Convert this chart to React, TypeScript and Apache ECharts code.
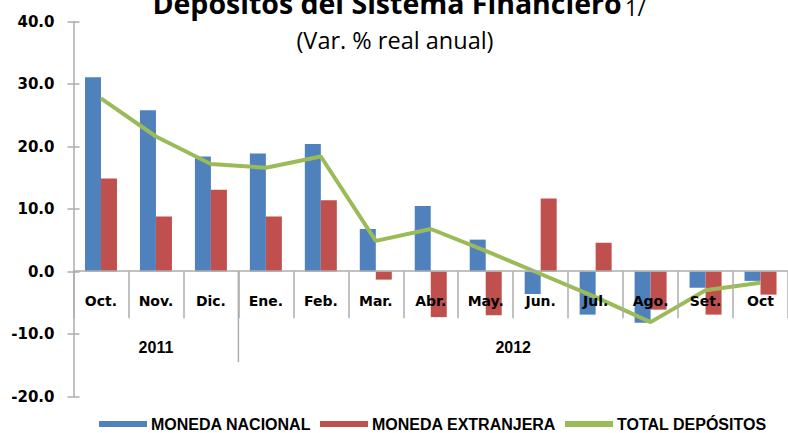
import React, { useEffect, useRef } from "react";
import * as echarts from "echarts";

const months = ["Oct.", "Nov.", "Dic.", "Ene.", "Feb.", "Mar.", "Abr.", "May.", "Jun.", "Jul.", "Ago.", "Set.", "Oct"];
const years = ["2011", "2012"];
const yearCounts = [3, 10];
const monedaNacional = [31.1, 25.8, 18.4, 18.9, 20.4, 6.8, 10.5, 5.1, -3.6, -6.9, -8.2, -2.6, -1.5];
const monedaExtranjera = [14.9, 8.8, 13.1, 8.8, 11.4, -1.3, -7.3, -7.0, 11.7, 4.6, -6.1, -6.9, -3.7];
const totalDepositos = [27.7, 21.6, 17.2, 16.6, 18.4, 4.9, 6.8, 3.3, -0.4, -4.1, -8.1, -3.0, -1.8];
const seriesNames = ["MONEDA NACIONAL", "MONEDA EXTRANJERA", "TOTAL DEPÓSITOS"];
const titleText = "Depósitos del Sistema Financiero";
const titleNote = "1/";
const subtitleText = "(Var. % real anual)";

export default function App() {
  const ref = useRef<HTMLDivElement>(null);
  useEffect(() => {
    if (!ref.current) return;
    const chart = echarts.init(ref.current, null, { renderer: "svg" });
    const axisColor = "#ADADAD";
    const axisFont = "DejaVu Sans";
    const grid = { left: 73.5, top: 21.5, width: 723, height: 375 };
    chart.setOption({
      animation: false,
      grid,
      legend: {
        left: 94,
        top: 411,
        itemWidth: 48,
        itemHeight: 6,
        itemGap: 9,
        data: seriesNames.map((n) => ({ name: n, icon: "rect" })),
        textStyle: { fontFamily: "Liberation Sans", fontWeight: "bold", fontSize: 16, color: "#000", padding: [0, 0, 0, -1] },
      },
      xAxis: {
        type: "category",
        data: months,
        position: "bottom",
        offset: 0,
        z: 10,
        axisLine: { onZero: false, lineStyle: { color: axisColor, width: 1.5 } },
        axisTick: { show: true, length: 47, lineStyle: { color: axisColor, width: 1.5 } },
        axisLabel: { margin: 23, fontFamily: axisFont, fontWeight: "bold", fontSize: 14, color: "#000" },
        splitLine: { show: false },
      },
      yAxis: [
        {
          type: "value",
          min: -20,
          max: 40,
          interval: 10,
          axisLine: { show: true, lineStyle: { color: axisColor, width: 1.5 } },
          axisTick: { show: true, length: 6, lineStyle: { color: axisColor, width: 1.5 } },
          axisLabel: { margin: 19, fontFamily: axisFont, fontWeight: "bold", fontSize: 15, color: "#000", formatter: (v: number) => v.toFixed(1) },
          splitLine: { show: false },
        },
        {
          type: "value",
          position: "left",
          min: -20,
          max: 40,
          interval: 10,
          axisLine: { show: false },
          axisTick: { show: true, inside: true, length: 6, lineStyle: { color: axisColor, width: 1.5 } },
          axisLabel: { show: false },
          splitLine: { show: false },
        },
      ],
      series: [
        { name: seriesNames[0], type: "bar", data: monedaNacional, barWidth: 16, barGap: "0%", itemStyle: { color: "#4F81BD" } },
        { name: seriesNames[1], type: "bar", data: monedaExtranjera, barWidth: 16, barGap: "0%", itemStyle: { color: "#C0504D" } },
        { name: seriesNames[2], type: "line", data: totalDepositos, symbol: "none", lineStyle: { color: "#9BBB59", width: 4 }, itemStyle: { color: "#9BBB59" }, z: 5 },
      ],
    });

    // move the category axis up to the zero line (value taken from the y scale)
    const zeroY = chart.convertToPixel({ yAxisIndex: 0 }, 0) as number;
    const bottomY = grid.top + grid.height;
    chart.setOption({ xAxis: { offset: -(bottomY - zeroY) } });

    // year group labels and separators, positioned from the axis scale
    const x0 = chart.convertToPixel({ xAxisIndex: 0 }, 0) as number;
    const x1 = chart.convertToPixel({ xAxisIndex: 0 }, 1) as number;
    const half = (x1 - x0) / 2;
    const elements: any[] = [];
    let start = 0;
    yearCounts.forEach((cnt, i) => {
      const a = chart.convertToPixel({ xAxisIndex: 0 }, start) as number;
      const b = chart.convertToPixel({ xAxisIndex: 0 }, start + cnt - 1) as number;
      elements.push({
        type: "text",
        x: (a + b) / 2,
        y: zeroY + 76,
        style: { text: years[i], font: "bold 16px 'Liberation Sans'", fill: "#000", align: "center", verticalAlign: "middle" },
      });
      if (i < yearCounts.length - 1) {
        elements.push({
          type: "line",
          shape: { x1: b + half, y1: zeroY, x2: b + half, y2: zeroY + 91 },
          style: { stroke: axisColor, lineWidth: 1.5 },
        });
      }
      start += cnt;
    });
    elements.push({
      type: "text",
      x: 399,
      y: 3,
      style: {
        text: `{b|${titleText}} {n|${titleNote}}`,
        align: "center",
        verticalAlign: "middle",
        rich: {
          b: { font: "bold 28.5px 'Open Sans'", fill: "#000", verticalAlign: "bottom" },
          n: { font: "22px 'Open Sans'", fill: "#000", verticalAlign: "bottom" },
        },
      },
    });
    elements.push({
      type: "text",
      x: 395,
      y: 40,
      style: { text: subtitleText, font: "23.5px 'Open Sans'", fill: "#000", align: "center", verticalAlign: "middle" },
    });
    chart.setOption({ graphic: { elements } });

    return () => chart.dispose();
  }, []);
  return <div ref={ref} style={{ position: "absolute", left: 0, top: 0, width: 788, height: 433 }} />;
}
